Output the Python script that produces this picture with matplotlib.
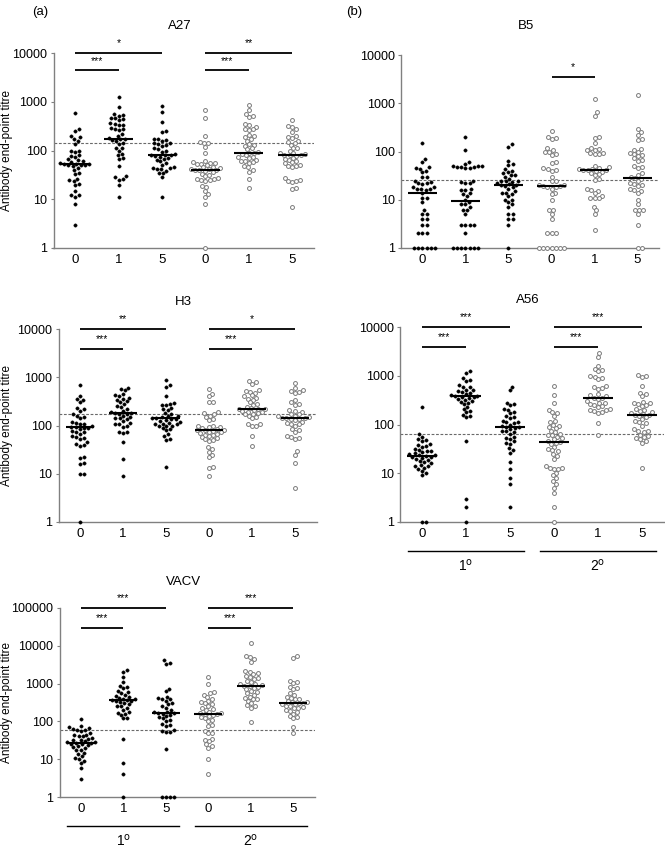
import numpy as np
import matplotlib
matplotlib.use("Agg")
import matplotlib.pyplot as plt
import matplotlib.transforms as mtransforms
from matplotlib.ticker import FixedLocator, FixedFormatter, NullLocator

plt.rcParams['font.family'] = ['Liberation Sans', 'DejaVu Sans']

# ---------------- data ----------------
x_labels = ['0', '1', '5', '0', '1', '5']
group_labels = [r'1$^{\mathrm{o}}$', r'2$^{\mathrm{o}}$']
y_label = 'Antibody end-point titre'

# A27
a27_p0 = [575, 270, 255, 200, 190, 170, 160, 137, 100, 100, 95, 80, 76, 72, 66, 63, 60, 58, 55, 53, 52, 52, 51, 50, 50, 48, 44, 40, 35, 33, 26, 25, 24, 21, 20, 15, 12, 12, 11, 8, 3]
a27_p1 = [1260, 790, 560, 540, 520, 470, 460, 440, 420, 360, 350, 340, 330, 290, 280, 270, 260, 215, 200, 180, 175, 170, 165, 160, 140, 135, 115, 110, 100, 85, 80, 70, 66, 48, 30, 28, 26, 25, 20, 11]
a27_p5 = [810, 610, 380, 250, 240, 175, 170, 165, 160, 145, 140, 135, 130, 125, 110, 105, 100, 95, 85, 82, 80, 80, 78, 75, 70, 68, 65, 60, 55, 50, 45, 44, 43, 42, 41, 38, 35, 34, 28, 11]
a27_s0 = [690, 460, 195, 150, 145, 140, 120, 87, 60, 58, 56, 55, 54, 53, 50, 46, 45, 44, 42, 41, 40, 40, 39, 38, 36, 33, 32, 30, 27, 26, 26, 25, 25, 24, 19, 18, 15, 13, 11, 8, 1]
a27_s1 = [850, 670, 560, 520, 480, 350, 330, 310, 280, 270, 260, 210, 200, 190, 170, 160, 135, 130, 125, 110, 105, 95, 90, 88, 85, 80, 75, 72, 70, 65, 62, 60, 58, 55, 48, 45, 40, 37, 26, 17]
a27_s5 = [420, 320, 300, 270, 240, 200, 190, 180, 160, 150, 145, 130, 115, 110, 100, 90, 87, 85, 82, 80, 80, 78, 70, 68, 65, 60, 57, 55, 50, 48, 47, 46, 27, 25, 24, 24, 23, 17, 16, 7]
a27_medians = [52, 175, 80, 40, 88, 80]
a27_cutoff = 145

# B5
b5_p0 = [150, 70, 60, 47, 45, 44, 40, 37, 30, 29, 24, 23, 22, 22, 21, 18, 18, 17, 17, 17, 16, 14, 11, 11, 9, 6, 5, 5, 4, 4, 3, 3, 2, 2, 2, 1, 1, 1, 1, 1, 1]
b5_p1 = [200, 110, 60, 56, 50, 50, 49, 48, 48, 47, 46, 45, 25, 23, 22, 22, 17, 16, 16, 14, 13, 12, 10, 9, 8, 8, 7, 6, 6, 5, 3, 3, 3, 3, 2, 1, 1, 1, 1, 1, 1, 1]
b5_p5 = [140, 125, 65, 55, 52, 43, 40, 37, 35, 33, 32, 30, 27, 25, 24, 24, 23, 22, 21, 20, 20, 19, 18, 17, 15, 14, 14, 13, 12, 10, 10, 9, 8, 7, 5, 5, 4, 4, 3, 1]
b5_s0 = [270, 200, 190, 180, 120, 110, 100, 100, 90, 85, 60, 58, 45, 43, 42, 40, 30, 25, 24, 20, 20, 19, 19, 18, 18, 17, 14, 13, 10, 6, 6, 5, 4, 2, 2, 2, 1, 1, 1, 1, 1, 1, 1]
b5_s1 = [1250, 650, 550, 200, 195, 150, 120, 115, 110, 105, 95, 92, 90, 88, 50, 47, 45, 44, 43, 42, 42, 41, 40, 38, 36, 34, 33, 27, 26, 17, 16, 15, 14, 12, 11, 11, 11, 7, 6, 5, 2.4]
b5_s5 = [1450, 290, 250, 220, 180, 170, 115, 110, 100, 95, 90, 85, 80, 72, 68, 65, 50, 48, 46, 35, 33, 30, 28, 27, 24, 22, 21, 20, 19, 17, 16, 15, 14, 10, 8, 6, 6, 6, 5, 3, 1, 1]
b5_medians = [14, 9.5, 20, 19, 42, 28]
b5_cutoff = 26

# H3
h3_p0 = [700, 400, 350, 340, 300, 230, 220, 200, 170, 160, 150, 140, 120, 115, 110, 105, 100, 95, 92, 90, 88, 85, 78, 75, 72, 68, 60, 58, 55, 52, 45, 42, 40, 38, 22, 21, 17, 16, 10, 10, 1]
h3_p1 = [600, 580, 540, 450, 420, 400, 380, 360, 340, 320, 300, 280, 250, 240, 220, 200, 190, 185, 180, 175, 170, 160, 150, 145, 140, 135, 125, 115, 110, 105, 100, 95, 75, 72, 70, 45, 20, 9]
h3_p5 = [880, 680, 620, 400, 290, 280, 270, 260, 230, 220, 210, 180, 170, 160, 155, 148, 145, 140, 138, 135, 130, 125, 120, 115, 110, 105, 105, 100, 100, 98, 90, 85, 80, 66, 60, 52, 50, 14]
h3_s0 = [560, 450, 400, 310, 300, 190, 180, 170, 160, 150, 135, 130, 100, 98, 95, 92, 90, 85, 82, 80, 80, 78, 75, 72, 70, 68, 65, 63, 60, 58, 55, 52, 50, 48, 35, 32, 28, 25, 22, 14, 13, 9]
h3_s1 = [830, 780, 740, 540, 520, 500, 480, 420, 400, 380, 360, 340, 300, 280, 270, 240, 230, 225, 220, 215, 210, 200, 195, 190, 180, 175, 170, 160, 150, 140, 110, 105, 100, 98, 62, 37]
h3_s5 = [750, 600, 550, 520, 500, 480, 330, 300, 280, 270, 210, 200, 190, 175, 170, 160, 155, 150, 145, 140, 140, 138, 135, 130, 120, 115, 110, 105, 100, 85, 80, 75, 60, 58, 55, 52, 30, 25, 17, 5]
h3_medians = [92, 182, 140, 80, 215, 142]
h3_cutoff = 170

# A56
a56_p0 = [230, 63, 55, 50, 47, 45, 40, 38, 36, 35, 32, 30, 29, 28, 27, 26, 25, 24, 24, 23, 22, 22, 21, 20, 19, 18, 17, 16, 15, 14, 14, 13, 12, 11, 10, 9, 1, 1]
a56_p1 = [1250, 1150, 900, 820, 780, 650, 600, 580, 520, 500, 480, 460, 450, 420, 400, 390, 380, 370, 360, 350, 340, 320, 300, 290, 280, 260, 230, 210, 190, 180, 160, 150, 140, 45, 3, 2, 1]
a56_p5 = [600, 500, 280, 260, 250, 210, 200, 180, 170, 150, 140, 135, 120, 115, 110, 105, 100, 95, 90, 88, 85, 82, 75, 72, 70, 65, 55, 52, 50, 45, 42, 40, 33, 30, 26, 17, 12, 8, 6, 2]
a56_s0 = [620, 410, 280, 200, 180, 170, 150, 120, 110, 100, 95, 90, 85, 75, 70, 65, 62, 60, 55, 52, 50, 46, 44, 42, 40, 35, 32, 30, 28, 25, 23, 20, 14, 13, 13, 12, 12, 10, 9, 8, 7, 6, 5, 4, 2, 1]
a56_s1 = [2900, 2400, 1600, 1400, 1300, 1250, 1000, 950, 900, 850, 620, 580, 560, 540, 420, 400, 380, 350, 345, 340, 300, 280, 270, 260, 250, 240, 230, 210, 200, 195, 190, 180, 175, 105, 60]
a56_s5 = [1050, 1000, 950, 620, 450, 420, 380, 290, 280, 270, 260, 250, 240, 210, 200, 190, 180, 170, 165, 160, 155, 150, 140, 130, 120, 110, 105, 95, 80, 75, 72, 70, 62, 58, 55, 52, 50, 45, 42, 13]
a56_medians = [22.5, 380, 88, 44, 345, 160]
a56_cutoff = 63

# VACV
vacv_p0 = [115, 75, 70, 65, 62, 60, 58, 55, 50, 45, 43, 42, 40, 36, 35, 33, 32, 30, 29, 28, 27, 27, 26, 25, 24, 22, 21, 20, 18, 17, 15, 14, 12, 11, 10, 9, 8, 6, 3]
vacv_p1 = [2300, 2000, 1500, 1100, 850, 800, 750, 650, 600, 550, 500, 480, 450, 420, 400, 380, 370, 360, 350, 340, 320, 300, 280, 260, 250, 230, 200, 180, 170, 160, 150, 125, 120, 35, 8, 4, 1]
vacv_p5 = [4200, 3500, 3300, 700, 620, 450, 420, 400, 380, 350, 300, 280, 250, 230, 200, 180, 175, 170, 165, 160, 150, 140, 130, 120, 110, 100, 85, 80, 75, 58, 55, 54, 53, 19, 1, 1, 1, 1]
vacv_s0 = [1500, 1000, 600, 550, 500, 450, 400, 350, 320, 300, 280, 260, 230, 210, 200, 180, 170, 165, 160, 155, 150, 140, 130, 120, 110, 100, 80, 75, 55, 50, 48, 35, 32, 30, 25, 22, 20, 10, 4]
vacv_s1 = [12000, 5500, 5000, 4500, 3800, 2100, 2000, 1900, 1800, 1600, 1500, 1400, 1300, 1200, 1100, 1000, 950, 900, 880, 850, 820, 780, 700, 650, 600, 550, 500, 450, 420, 400, 380, 350, 300, 270, 250, 230, 95]
vacv_s5 = [5300, 4800, 1200, 1100, 1050, 800, 750, 700, 550, 500, 450, 420, 400, 380, 350, 330, 320, 310, 300, 290, 280, 260, 250, 240, 230, 220, 200, 190, 180, 160, 140, 130, 120, 70, 50]
vacv_medians = [27, 370, 170, 160, 880, 310]
vacv_cutoff = 60

# significance: (from group, to group, label, level)
a27_sig = [(0, 2, '*', 10000), (0, 1, '***', 4400), (3, 5, '**', 10000), (3, 4, '***', 4400)]
b5_sig = [(3, 4, '*', 3500)]
h3_sig = [(0, 2, '**', 10000), (0, 1, '***', 3900), (3, 5, '*', 10000), (3, 4, '***', 3900)]
a56_sig = [(0, 2, '***', 10000), (0, 1, '***', 3900), (3, 5, '***', 10000), (3, 4, '***', 3900)]
vacv_sig = [(0, 2, '***', 100000), (0, 1, '***', 30000), (3, 5, '***', 100000), (3, 4, '***', 30000)]

# ---------------- layout ----------------
W, H = 665, 848
fig = plt.figure(figsize=(6.65, 8.48), dpi=100)

AXIS_GRAY = '#808080'
OPEN_GRAY = '#7a7a7a'


def swarm(ypx, d):
    n = len(ypx)
    order = np.argsort(ypx, kind='stable')
    xs = np.zeros(n)
    placed = []
    for i in order:
        y = ypx[i]
        intervals = []
        for (px, py) in placed:
            dy = abs(y - py)
            if dy < d:
                w = np.sqrt(d * d - dy * dy)
                intervals.append((px - w, px + w))
        cands = [0.0] + [a for a, b in intervals] + [b for a, b in intervals]
        cands = sorted(cands, key=lambda c: (round(abs(c), 4), -c))
        for c in cands:
            if all(not (a + 1e-6 < c < b - 1e-6) for a, b in intervals):
                xs[i] = c
                break
        placed.append((xs[i], y))
    return xs


def panel(name, groups, medians, cutoff, sig, left, top, sp, bottom, ymax,
          title_y, ylab=False, group_row=False):
    right = left + 6 * sp
    ax = fig.add_axes([left / W, 1 - bottom / H, (right - left) / W, (bottom - top) / H])
    ax.set_yscale('log')
    ax.set_xlim(-0.5, 5.5)
    ax.set_ylim(1, ymax)
    for s in ['top', 'right']:
        ax.spines[s].set_visible(False)
    for s in ['left', 'bottom']:
        ax.spines[s].set_color(AXIS_GRAY)
        ax.spines[s].set_linewidth(1.0)
    yt = [10 ** k for k in range(int(round(np.log10(ymax))) + 1)]
    ax.yaxis.set_major_locator(FixedLocator(yt))
    ax.yaxis.set_major_formatter(FixedFormatter([str(v) for v in yt]))
    ax.yaxis.set_minor_locator(NullLocator())
    ax.set_xticks(range(6))
    ax.set_xticklabels(x_labels)
    ax.tick_params(axis='y', length=2.5, width=0.8, color=AXIS_GRAY, pad=2, labelsize=9)
    ax.tick_params(axis='x', length=0, pad=4, labelsize=9.5)

    # cutoff line
    ax.axhline(cutoff, color='#6a6a6a', lw=0.8, ls=(0, (2.5, 1.5)), zorder=1)

    d = 4.2
    for gi, vals in enumerate(groups):
        vals = np.asarray(vals, dtype=float)
        pts = ax.transData.transform(np.column_stack([np.full(len(vals), gi), vals]))
        dx = swarm(pts[:, 1], d)
        xs = gi + dx / sp
        if gi < 3:
            ax.plot(xs, vals, 'o', ms=2.4, mfc='black', mec='black', mew=0.3,
                    ls='none', clip_on=False, zorder=3)
        else:
            ax.plot(xs, vals, 'o', ms=2.8, mfc='white', mec=OPEN_GRAY, mew=0.7,
                    ls='none', clip_on=False, zorder=3)
        ax.plot([gi - 0.33, gi + 0.33], [medians[gi], medians[gi]], color='black',
                lw=1.5, solid_capstyle='butt', zorder=4, clip_on=False)

    star_tr = mtransforms.offset_copy(ax.transData, fig=fig, x=0, y=4.5, units='dots')
    for (g0, g1, lab, lvl) in sig:
        ax.plot([g0, g1], [lvl, lvl], color='black', lw=1.3, solid_capstyle='butt',
                clip_on=False, zorder=4)
        ax.text((g0 + g1) / 2, lvl, lab, transform=star_tr, ha='center', va='bottom',
                fontsize=7.5)

    cx = (left + right) / 2 - 4
    fig.text(cx / W, 1 - title_y / H, name, ha='center', va='center', fontsize=9.5)
    if ylab:
        fig.text(7 / W, 1 - (top + bottom) / 2 / H, y_label, rotation=90,
                 ha='center', va='center', fontsize=8.5)
    if group_row:
        line_tr = mtransforms.offset_copy(ax.get_xaxis_transform(), fig=fig, x=0, y=-29, units='dots')
        lab_tr = mtransforms.offset_copy(ax.get_xaxis_transform(), fig=fig, x=0, y=-44, units='dots')
        for k, c in enumerate([1.0, 4.0]):
            ax.plot([c - 1.32, c + 1.32], [0, 0], color='black', lw=1.0,
                    transform=line_tr, clip_on=False)
            ax.text(c, 0, group_labels[k], transform=lab_tr, ha='center', va='center',
                    fontsize=10)
    return ax


panel('A27', [a27_p0, a27_p1, a27_p5, a27_s0, a27_s1, a27_s5], a27_medians, a27_cutoff,
      a27_sig, left=53.5, top=53, sp=43.4, bottom=248, ymax=10000, title_y=26, ylab=True)
panel('B5', [b5_p0, b5_p1, b5_p5, b5_s0, b5_s1, b5_s5], b5_medians, b5_cutoff,
      b5_sig, left=401, top=55, sp=43.0, bottom=248, ymax=10000, title_y=26)
panel('H3', [h3_p0, h3_p1, h3_p5, h3_s0, h3_s1, h3_s5], h3_medians, h3_cutoff,
      h3_sig, left=58.5, top=329, sp=43.0, bottom=522, ymax=10000, title_y=302, ylab=True)
panel('A56', [a56_p0, a56_p1, a56_p5, a56_s0, a56_s1, a56_s5], a56_medians, a56_cutoff,
      a56_sig, left=400, top=327, sp=44.0, bottom=522, ymax=10000, title_y=300, group_row=True)
panel('VACV', [vacv_p0, vacv_p1, vacv_p5, vacv_s0, vacv_s1, vacv_s5], vacv_medians, vacv_cutoff,
      vacv_sig, left=59.5, top=608, sp=42.5, bottom=797, ymax=100000, title_y=582,
      ylab=True, group_row=True)

fig.text(40 / W, 1 - 12 / H, '(a)', ha='center', va='center', fontsize=9.5)
fig.text(354 / W, 1 - 12 / H, '(b)', ha='center', va='center', fontsize=9.5)

fig.savefig('out.png', dpi=100)
